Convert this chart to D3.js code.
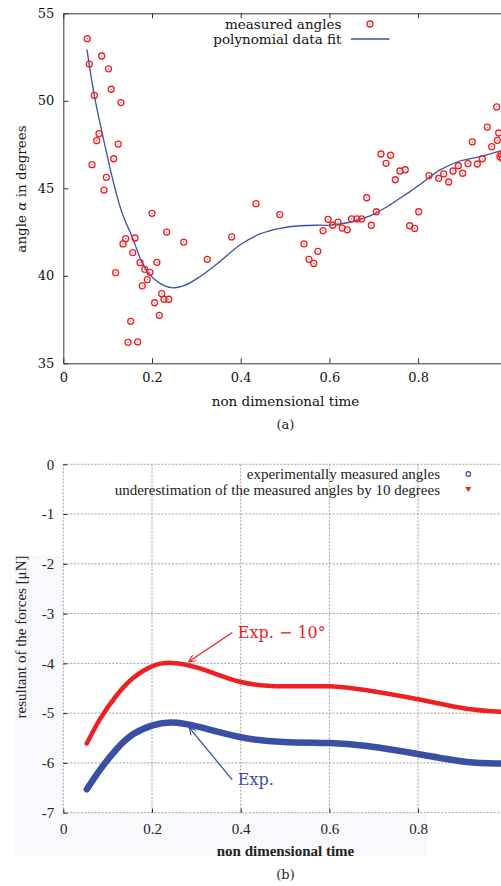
<!DOCTYPE html>
<html><head><meta charset="utf-8">
<script src="https://cdn.jsdelivr.net/npm/d3@7"></script>
<style>
html,body{margin:0;padding:0;background:#fff;}
svg{display:block;}
</style></head>
<body>
<svg id="c" width="501" height="886"></svg>
<script>
// ---------- Data: chart (a) ----------
const pointsX = [0.054,0.0587,0.0647,0.070,0.0753,0.0805,0.0866,0.0918,0.097,0.102,0.108,0.1136,0.118,0.124,0.130,0.1346,0.1407,0.146,0.152,0.1565,0.1617,0.1677,0.173,0.178,0.1835,0.1894,0.1955,0.200,0.206,0.211,0.2165,0.2219,0.227,0.233,0.238,0.2715,0.3247,0.3797,0.4345,0.488,0.5427,0.554,0.5646,0.574,0.5856,0.597,0.6074,0.6194,0.629,0.6404,0.650,0.6622,0.6728,0.684,0.6945,0.7058,0.7163,0.7277,0.738,0.7486,0.759,0.771,0.781,0.7923,0.8013,0.8246,0.8465,0.8577,0.869,0.8787,0.8907,0.9005,0.9125,0.9222,0.9335,0.9448,0.956,0.966,0.9772,0.9786,0.9817,0.9846,0.987,0.99,0.993];
const pointsY = [53.55,52.1,46.35,50.31,47.72,48.12,52.56,44.9,45.63,51.83,50.66,46.69,40.18,47.53,49.9,41.82,42.12,36.2,37.4,41.32,42.16,36.22,40.75,39.43,40.37,39.78,40.2,43.57,38.46,40.77,37.74,38.98,38.66,42.5,38.66,41.93,40.94,42.22,44.12,43.5,41.83,40.94,40.71,41.4,42.58,43.23,42.89,43.07,42.73,42.63,43.25,43.25,43.25,44.46,42.89,43.66,46.96,46.43,46.89,45.49,45.99,46.06,42.86,42.71,43.66,45.72,45.57,45.82,45.36,45.99,46.29,45.86,46.41,47.65,46.39,46.69,48.5,47.38,49.65,47.74,48.16,46.81,46.95,46.7,47.0];
const fitX = [0.0534,0.070,0.0978,0.1127,0.1316,0.158,0.1767,0.1955,0.218,0.2444,0.2706,0.308,0.353,0.398,0.4435,0.4886,0.5337,0.5788,0.6014,0.6464,0.6915,0.7366,0.759,0.7817,0.8043,0.8494,0.8945,0.9396,0.9846,1.0];
const fitY = [52.92,50.3,47.0,45.38,43.66,42.05,40.81,40.05,39.57,39.32,39.42,39.95,40.81,41.76,42.39,42.71,42.86,42.89,42.89,43.06,43.42,44.05,44.43,44.81,45.22,46.05,46.56,46.81,47.13,47.25];
const xTicksA = [0,0.2,0.4,0.6,0.8,1];
const yTicksA = [35,40,45,50,55];
const legendA = ["measured angles","polynomial data fit"];

// ---------- Data: chart (b) ----------
const forceX = [0.053,0.0827,0.1204,0.158,0.2,0.2444,0.308,0.398,0.4966,0.5998,0.684,0.7993,0.9095,0.9846,1.0];
const forceExp = [-6.53,-6.14,-5.72,-5.42,-5.25,-5.19,-5.28,-5.48,-5.58,-5.60,-5.66,-5.82,-5.98,-6.01,-6.03];
const forceExp10 = [-5.61,-5.12,-4.64,-4.29,-4.06,-3.99,-4.10,-4.37,-4.46,-4.46,-4.54,-4.72,-4.91,-4.97,-4.99];
const xTicksB = [0,0.2,0.4,0.6,0.8,1];
const yTicksB = [0,-1,-2,-3,-4,-5,-6,-7];
const legendB = ["experimentally measured angles","underestimation of the measured angles by 10 degrees"];
// annotations: [tailX, tailY, headX, headY, label]
const annoExp10 = [0.381,-3.38,0.2828,-3.966,"Exp. \u2212 10\u00B0"];
const annoExp = [0.381,-6.34,0.284,-5.29,"Exp."];

const svg = d3.select("#c");
const blue = "#3a4fa3", red = "#ee2024";

// ================= Chart (a) =================
const xA = d3.scaleLinear().domain([0,1]).range([63.3,506.8]);
const yA = d3.scaleLinear().domain([35,55]).range([363.3,13.3]);
const gA = svg.append("g");
const fA = "DejaVu Serif, serif";

const axStyle = g => { g.selectAll("path,line").attr("stroke","#333").attr("stroke-width",1);
  g.selectAll("text").attr("font-family",fA).attr("font-size",13).attr("fill","#111"); };
const fmt = d => d===0?"0":(d===1?"":d3.format(".1f")(d));

gA.append("g").attr("transform","translate(0,363.3)")
  .call(d3.axisBottom(xA).tickValues(xTicksA).tickFormat(fmt).tickSize(-5).tickPadding(9).tickSizeOuter(0))
  .call(axStyle);
gA.append("g").attr("transform","translate(0,13.3)")
  .call(d3.axisTop(xA).tickValues(xTicksA).tickFormat("").tickSize(-5).tickSizeOuter(0))
  .call(axStyle);
gA.append("g").attr("transform","translate(63.3,0)")
  .call(d3.axisLeft(yA).tickValues(yTicksA).tickSize(-5).tickPadding(9).tickSizeOuter(0))
  .call(axStyle);

const lineA = d3.line().x((d,i)=>xA(fitX[i])).y((d,i)=>yA(fitY[i])).curve(d3.curveCatmullRom);
gA.append("path").datum(fitX).attr("d",lineA).attr("fill","none").attr("stroke",blue).attr("stroke-width",1.3);

const pts = gA.append("g");
pointsX.forEach((px,i)=>{
  pts.append("circle").attr("cx",xA(px)).attr("cy",yA(pointsY[i])).attr("r",3)
    .attr("fill","none").attr("stroke",red).attr("stroke-width",1.3);
  pts.append("circle").attr("cx",xA(px)).attr("cy",yA(pointsY[i])).attr("r",0.6).attr("fill",red);
});

// legend (a)
const legA = gA.append("g").attr("font-family",fA).attr("font-size",13.5).attr("fill","#111");
legA.append("text").attr("x",341.5).attr("y",24).attr("dy","0.35em").attr("text-anchor","end").text(legendA[0]);
legA.append("text").attr("x",341.5).attr("y",39).attr("dy","0.35em").attr("text-anchor","end").text(legendA[1]);
legA.append("circle").attr("cx",370).attr("cy",24).attr("r",3).attr("fill","none").attr("stroke",red).attr("stroke-width",1.3);
legA.append("circle").attr("cx",370).attr("cy",24).attr("r",0.6).attr("fill",red);
legA.append("line").attr("x1",351).attr("x2",389.5).attr("y1",39).attr("y2",39).attr("stroke",blue).attr("stroke-width",1.5);

// labels (a)
gA.append("text").attr("x",285.5).attr("y",401).attr("dy","0.35em").attr("text-anchor","middle")
  .attr("font-family",fA).attr("font-size",13.5).attr("fill","#111").text("non dimensional time");
const yl = gA.append("text").attr("transform","translate(21,189) rotate(-90)").attr("dy","0.35em").attr("text-anchor","middle")
  .attr("font-family",fA).attr("font-size",13.5).attr("fill","#111");
yl.append("tspan").text("angle ");
yl.append("tspan").attr("font-style","italic").text("\u03B1");
yl.append("tspan").text(" in degrees");
gA.append("text").attr("x",285.5).attr("y",424).attr("dy","0.35em").attr("text-anchor","middle")
  .attr("font-family",fA).attr("font-size",13).attr("fill","#222").text("(a)");

// ================= Chart (b) =================
const xB = d3.scaleLinear().domain([0,1]).range([63.3,506.8]);
const yB = d3.scaleLinear().domain([-7,0]).range([812.7,464.3]);
const gB = svg.append("g");
const fB = "'Liberation Serif', 'Times New Roman', serif";

gB.append("rect").attr("x",14).attr("y",556).attr("width",413).attr("height",300).attr("fill","#f7f8fc");
gB.append("rect").attr("x",63.3).attr("y",464.3).attr("width",440).attr("height",348.4).attr("fill","#fff");

// grid
const grid = gB.append("g").attr("stroke","#8a8a8a").attr("stroke-width",0.8).attr("stroke-dasharray","2,1.5");
yTicksB.forEach(v=>grid.append("line").attr("x1",xB(0)).attr("x2",xB(1)).attr("y1",yB(v)).attr("y2",yB(v)));
xTicksB.forEach(v=>grid.append("line").attr("x1",xB(v)).attr("x2",xB(v)).attr("y1",yB(-7)).attr("y2",yB(0)));

const axStyleB = g => { g.select(".domain").remove();
  g.selectAll("line").attr("stroke","#222").attr("stroke-width",1);
  g.selectAll("text").attr("font-family",fB).attr("font-size",15).attr("fill","#222"); };
gB.append("g").attr("transform","translate(0,812.7)")
  .call(d3.axisBottom(xB).tickValues(xTicksB).tickFormat(fmt).tickSize(-4).tickPadding(11))
  .call(axStyleB);
gB.append("g").attr("transform","translate(63.3,0)")
  .call(d3.axisLeft(yB).tickValues(yTicksB).tickFormat(d=>d===0?"0":"-"+Math.abs(d)).tickSize(-4).tickPadding(9))
  .call(axStyleB);

const lineB = arr => d3.line().x((d,i)=>xB(forceX[i])).y((d,i)=>yB(arr[i])).curve(d3.curveNatural);
gB.append("path").datum(forceX).attr("d",lineB(forceExp10)).attr("fill","none").attr("stroke",red).attr("stroke-width",4.5).attr("stroke-linecap","round");
gB.append("path").datum(forceX).attr("d",lineB(forceExp)).attr("fill","none").attr("stroke",blue).attr("stroke-width",6.5).attr("stroke-linecap","round");

// arrows
const defs = svg.append("defs");
[["ar",red],["ab",blue]].forEach(([id,c])=>{
  defs.append("marker").attr("id",id).attr("viewBox","0 0 10 10").attr("refX",10).attr("refY",5)
    .attr("markerWidth",9).attr("markerHeight",7).attr("markerUnits","userSpaceOnUse").attr("orient","auto")
    .append("path").attr("d","M0,0 L10,5 L0,10").attr("fill","none").attr("stroke",c).attr("stroke-width",1.6);
});
[[annoExp10,red,"ar"],[annoExp,blue,"ab"]].forEach(([a,c,m])=>{
  gB.append("line").attr("x1",xB(a[0])).attr("y1",yB(a[1])).attr("x2",xB(a[2])).attr("y2",yB(a[3]))
    .attr("stroke",c).attr("stroke-width",1.3).attr("marker-end",`url(#${m})`);
  gB.append("text").attr("x",xB(a[0])+5.5).attr("y",yB(a[1])).attr("dy","0.35em")
    .attr("font-family","DejaVu Serif, serif").attr("font-size",16).attr("fill",c).text(a[4]);
});

// legend (b)
const legB = gB.append("g").attr("font-family",fB).attr("font-size",15).attr("fill","#222");
legB.append("text").attr("x",440).attr("y",474).attr("dy","0.35em").attr("text-anchor","end").text(legendB[0]);
legB.append("text").attr("x",440).attr("y",489.3).attr("dy","0.35em").attr("text-anchor","end").text(legendB[1]);
legB.append("circle").attr("cx",468.3).attr("cy",474).attr("r",2.3).attr("fill","none").attr("stroke",blue).attr("stroke-width",1.2);
legB.append("path").attr("d","M465.3,487 L471.3,487 L468.3,492 Z").attr("fill",red);

// labels (b)
gB.append("text").attr("x",285.5).attr("y",851).attr("dy","0.35em").attr("text-anchor","middle")
  .attr("font-family",fB).attr("font-size",15).attr("font-weight","bold").attr("fill","#222").text("non dimensional time");
gB.append("text").attr("transform","translate(21,637) rotate(-90)").attr("dy","0.35em").attr("text-anchor","middle")
  .attr("font-family",fB).attr("font-size",15).attr("fill","#222").text("resultant of the forces [\u03BCN]");
gB.append("text").attr("x",285.5).attr("y",874).attr("dy","0.35em").attr("text-anchor","middle")
  .attr("font-family","DejaVu Serif, serif").attr("font-size",13).attr("fill","#222").text("(b)");
</script>
</body></html>
